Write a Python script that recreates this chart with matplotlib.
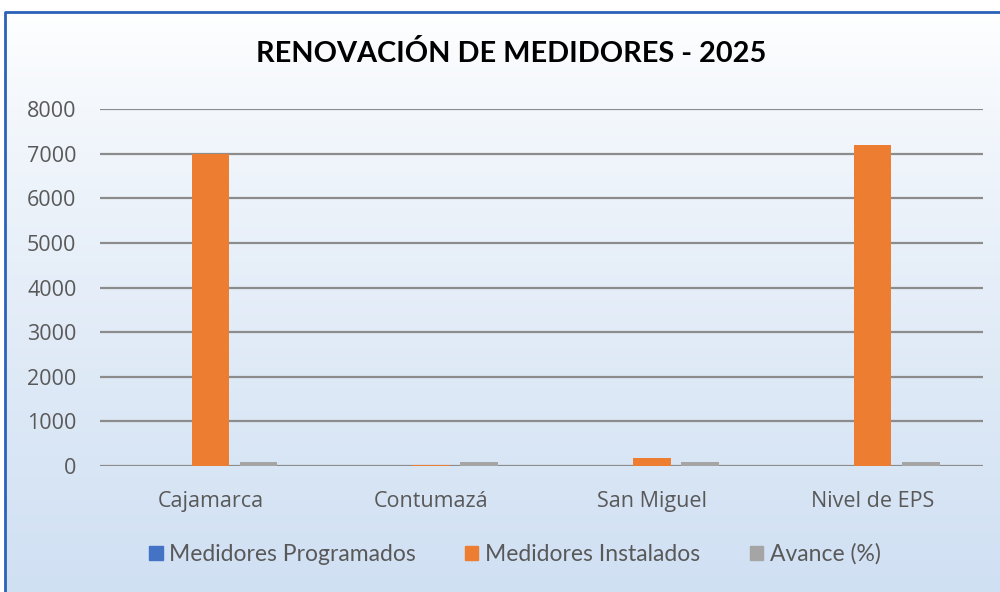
import numpy as np
import matplotlib
matplotlib.use("Agg")
import matplotlib.pyplot as plt
from matplotlib.patches import Rectangle, Patch

categories = ["Cajamarca", "Contumazá", "San Miguel", "Nivel de EPS"]
programados = [0, 0, 0, 0]
instalados = [7000, 20, 170, 7200]
avance = [100, 100, 100, 100]
series_names = ["Medidores Programados", "Medidores Instalados", "Avance (%)"]
colors = ["#4472C4", "#ED7D31", "#A5A5A5"]
yticks = [0, 1000, 2000, 3000, 4000, 5000, 6000, 7000, 8000]

plt.rcParams['font.family'] = ['Lato', 'DejaVu Sans']

W, H = 1000, 592
fig = plt.figure(figsize=(W / 100, H / 100), dpi=100)

# background gradient
bg = fig.add_axes([0, 0, 1, 1], zorder=-10)
bg.set_axis_off()
grad = np.linspace(0, 1, 256).reshape(-1, 1)
top = np.array([1.0, 1.0, 1.0])
bot = np.array([0xD0, 0xE0, 0xF3]) / 255
t = np.clip((grad - 0.02) / 0.98, 0, 1) ** 0.8
img = top * (1 - t[..., None]) + bot * t[..., None]
img = img.reshape(256, 1, 3)
bg.imshow(img, aspect='auto', extent=[0, 1, 0, 1], origin='upper')
bg.set_xlim(0, 1)
bg.set_ylim(0, 1)
# white area outside border
bg.add_patch(Rectangle((0, 0), 4.5 / W, 1, color='white', zorder=2))
bg.add_patch(Rectangle((0, 1 - 11.5 / H), 1, 11.5 / H, color='white', zorder=2))
bg.plot([4.5 / W, 4.5 / W, 1.0], [0, 1 - 11.5 / H, 1 - 11.5 / H], color='#2A62B8', lw=2, zorder=3, solid_capstyle='projecting')

ax = fig.add_axes([100 / W, 1 - 466 / H, 883 / W, (466 - 109) / H])
ax.patch.set_alpha(0)
x = np.arange(len(categories))
w = 0.17
off = 0.218
data = [programados, instalados, avance]
for i, (vals, c) in enumerate(zip(data, colors)):
    ax.bar(x + (i - 1) * off, vals, width=w, color=c, zorder=3)

ax.set_xlim(-0.5, len(categories) - 0.5)
ax.set_ylim(0, 8000)
ax.set_yticks(yticks)
ax.set_yticklabels([str(v) for v in yticks])
ax.set_xticks(x)
ax.set_xticklabels(categories)
ax.tick_params(axis='both', length=0, labelsize=15.5, colors='#595959')
for lab in ax.get_xticklabels() + ax.get_yticklabels():
    lab.set_family(['Open Sans', 'DejaVu Sans'])
ax.tick_params(axis='y', pad=17)
ax.tick_params(axis='x', pad=18)
ax.yaxis.grid(True, color='#8C8C8C', lw=1.6, zorder=1)
for s in ax.spines.values():
    s.set_visible(False)

fig.text(511 / W, 1 - 53 / H, "RENOVACIÓN DE MEDIDORES - 2025", ha='center', va='center',
         fontsize=20.8, fontweight='bold', color='black')

handles = [Patch(color=c) for c in colors]
leg = fig.legend(handles, series_names, loc='center', bbox_to_anchor=(515 / W, 1 - 554 / H),
                 ncol=3, frameon=False, fontsize=16.5, handlelength=0.57, handleheight=0.57,
                 handletextpad=0.3, columnspacing=2.15)
for txt in leg.get_texts():
    txt.set_color('#595959')

fig.savefig("out.png", dpi=100)
